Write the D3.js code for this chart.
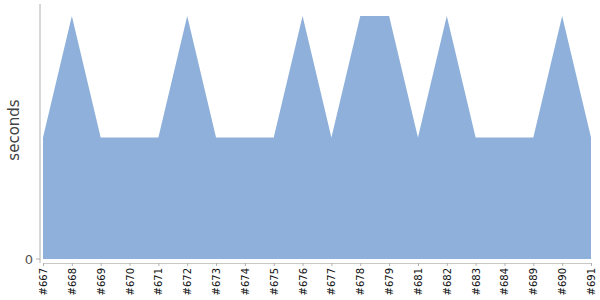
<!DOCTYPE html>
<html>
<head>
<meta charset="utf-8">
<script src="https://cdn.jsdelivr.net/npm/d3@7"></script>
<style>
  body { margin: 0; background: #fff; }
  svg { font-family: "DejaVu Sans", sans-serif; }
</style>
</head>
<body>
<svg id="chart" width="600" height="300"></svg>
<script>
const builds = ["#667","#668","#669","#670","#671","#672","#673","#674","#675","#676",
                "#677","#678","#679","#681","#682","#683","#684","#689","#690","#691"];
const seconds = [1,2,1,1,1,2,1,1,1,2,1,2,2,1,2,1,1,1,2,1];
const yTicks = [0];

let chart = d3.select("#chart");

let xScale = d3.scalePoint()
    .domain(builds)
    .range([43, 591]);

let yScale = d3.scaleLinear()
    .domain([0, 2])
    .range([259, 16]);

let area = d3.area()
    .x((d, i) => xScale(builds[i]))
    .y0(yScale(0))
    .y1(d => yScale(d));

chart.append("path")
    .datum(seconds)
    .attr("d", area)
    .attr("fill", "#8eb0da");

// y axis
chart.append("line")
    .attr("x1", 40).attr("x2", 40)
    .attr("y1", 4).attr("y2", 263)
    .attr("stroke", "#b0b0b0");

chart.selectAll(".ytick")
    .data(yTicks).enter()
    .append("text")
        .attr("x", 33)
        .attr("y", d => yScale(d))
        .attr("dy", "0.35em")
        .style("text-anchor", "end")
        .style("font-size", "13px")
        .style("fill", "#555")
        .text(d => d);

chart.selectAll(".ytickline")
    .data(yTicks).enter()
    .append("line")
        .attr("x1", 36).attr("x2", 40)
        .attr("y1", d => yScale(d)).attr("y2", d => yScale(d))
        .attr("stroke", "#b0b0b0");

// x axis
let xAxis = chart.append("g")
    .attr("transform", "translate(0,263)")
    .call(d3.axisBottom(xScale).tickSize(3).tickSizeOuter(0));

xAxis.select(".domain").attr("stroke", "#c8c8c8");
xAxis.selectAll(".tick line").attr("stroke", "#b0b0b0");
xAxis.selectAll(".tick text")
    .attr("transform", "rotate(-90)")
    .attr("x", -5)
    .attr("y", 0)
    .attr("dy", "0.35em")
    .style("text-anchor", "end")
    .style("font-size", "10px")
    .style("font-family", "DejaVu Sans, sans-serif")
    .style("fill", "#111");

chart.append("text")
    .attr("transform", "rotate(-90)")
    .attr("x", -130)
    .attr("y", 19)
    .style("text-anchor", "middle")
    .style("font-size", "15px")
    .style("fill", "#444")
    .text("seconds");
</script>
</body>
</html>
